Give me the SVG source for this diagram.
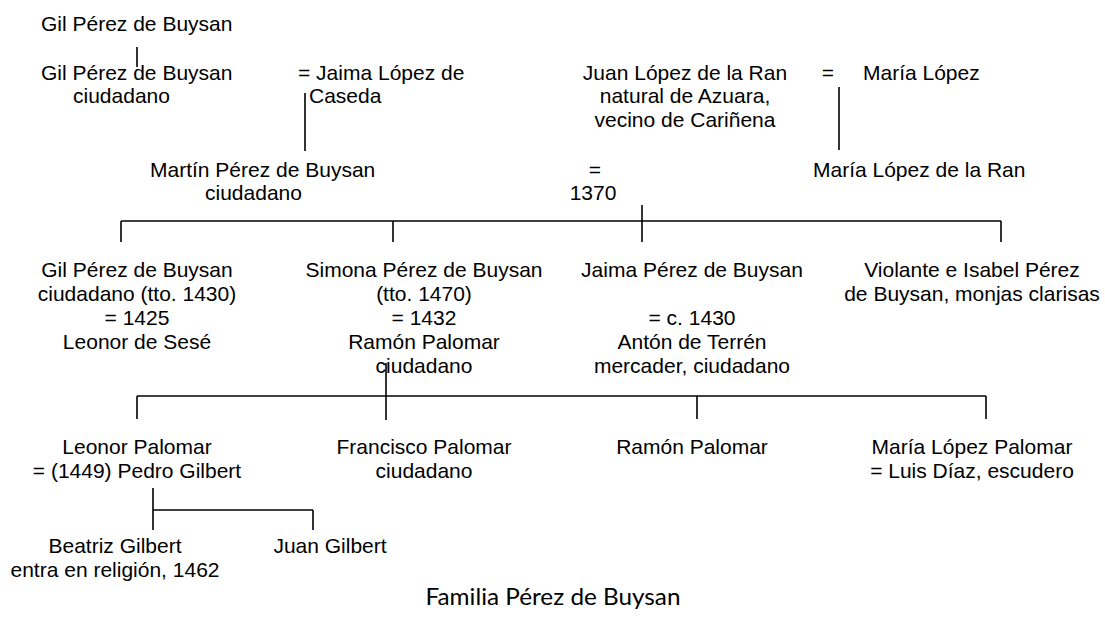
<svg xmlns="http://www.w3.org/2000/svg" width="1105" height="633" viewBox="0 0 1105 633">
<style>
text{font-family:"Liberation Sans",Arial,sans-serif;font-size:21px;fill:#000}
.m{text-anchor:middle}
.cap{font-family:Lato,"Open Sans",sans-serif;font-size:23px;text-anchor:middle}
#connectors line{stroke:#000;stroke-width:1.6;fill:none}
</style>
<rect width="1105" height="633" fill="#fff"/>
<g id="connectors">
<line x1="137" y1="47" x2="137" y2="67"/>
<line x1="305" y1="93" x2="305" y2="151"/>
<line x1="839" y1="87" x2="839" y2="150"/>
<line x1="642" y1="205" x2="642" y2="242"/>
<line x1="121" y1="221" x2="1001" y2="221"/>
<line x1="121" y1="221" x2="121" y2="242"/>
<line x1="393" y1="221" x2="393" y2="242"/>
<line x1="1001" y1="221" x2="1001" y2="242"/>
<line x1="386" y1="363" x2="386" y2="420"/>
<line x1="137" y1="396" x2="986" y2="396"/>
<line x1="137" y1="396" x2="137" y2="419"/>
<line x1="697" y1="396" x2="697" y2="419"/>
<line x1="986" y1="396" x2="986" y2="419"/>
<line x1="153" y1="488" x2="153" y2="530"/>
<line x1="153" y1="510" x2="313" y2="510"/>
<line x1="313" y1="510" x2="313" y2="530"/>
</g>
<g id="gil1"><text x="41" y="31">Gil Pérez de Buysan</text></g>
<g id="gil2"><text x="41" y="80">Gil Pérez de Buysan</text><text x="73" y="103">ciudadano</text></g>
<g id="jaimaLopez"><text x="298" y="80">= Jaima López de</text><text x="309" y="103">Caseda</text></g>
<g id="juanLopez"><text class="m" x="685" y="80">Juan López de la Ran</text><text class="m" x="685" y="103">natural de Azuara,</text><text class="m" x="685" y="127">vecino de Cariñena</text></g>
<g id="eq1"><text class="m" x="828" y="80">=</text></g>
<g id="mariaLopez"><text x="863" y="80">María López</text></g>
<g id="mariaLopezRan"><text x="813" y="177">María López de la Ran</text></g>
<g id="martin"><text x="150" y="177">Martín Pérez de Buysan</text><text x="205" y="200">ciudadano</text></g>
<g id="marriage1370"><text class="m" x="595" y="177">=</text><text class="m" x="593" y="200">1370</text></g>
<g id="gil3"><text class="m" x="137" y="277">Gil Pérez de Buysan</text><text class="m" x="137" y="301">ciudadano (tto. 1430)</text><text class="m" x="137" y="325">= 1425</text><text class="m" x="137" y="349">Leonor de Sesé</text></g>
<g id="simona"><text class="m" x="424" y="277">Simona Pérez de Buysan</text><text class="m" x="424" y="301">(tto. 1470)</text><text class="m" x="424" y="325">= 1432</text><text class="m" x="424" y="349">Ramón Palomar</text><text class="m" x="424" y="373">ciudadano</text></g>
<g id="jaima"><text class="m" x="692" y="277">Jaima Pérez de Buysan</text><text class="m" x="692" y="325">= c. 1430</text><text class="m" x="692" y="349">Antón de Terrén</text><text class="m" x="692" y="373">mercader, ciudadano</text></g>
<g id="violante"><text class="m" x="972" y="277">Violante e Isabel Pérez</text><text class="m" x="972" y="301">de Buysan, monjas clarisas</text></g>
<g id="leonor"><text class="m" x="137" y="454">Leonor Palomar</text><text class="m" x="137" y="478">= (1449) Pedro Gilbert</text></g>
<g id="francisco"><text class="m" x="424" y="454">Francisco Palomar</text><text class="m" x="424" y="478">ciudadano</text></g>
<g id="ramon"><text class="m" x="692" y="454">Ramón Palomar</text></g>
<g id="mariaPalomar"><text class="m" x="972" y="454">María López Palomar</text><text class="m" x="972" y="478">= Luis Díaz, escudero</text></g>
<g id="beatriz"><text class="m" x="115" y="553">Beatriz Gilbert</text><text class="m" x="115" y="577">entra en religión, 1462</text></g>
<g id="juanGilbert"><text class="m" x="330" y="553">Juan Gilbert</text></g>
<g id="caption"><text class="cap" x="553" y="605" textLength="255" lengthAdjust="spacingAndGlyphs">Familia Pérez de Buysan</text></g>
</svg>
